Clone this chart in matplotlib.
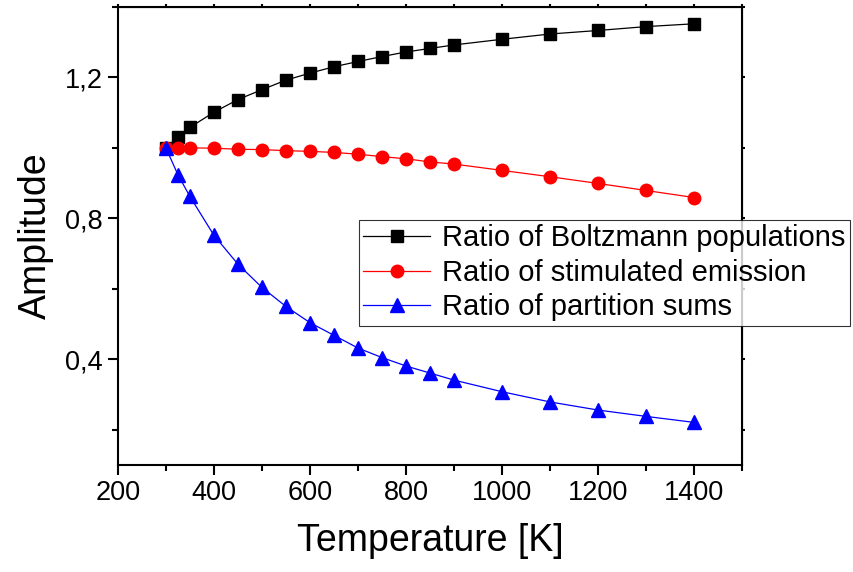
import numpy as np
import matplotlib.pyplot as plt
from matplotlib.ticker import MultipleLocator, FuncFormatter

plt.rcParams['font.family'] = ['Liberation Sans', 'DejaVu Sans']

temps = [300, 325, 350, 400, 450, 500, 550, 600, 650, 700, 750,
         800, 850, 900, 1000, 1100, 1200, 1300, 1400]
boltzmann = [1.000, 1.030, 1.058, 1.101, 1.137, 1.165, 1.192, 1.212, 1.230, 1.245,
             1.259, 1.272, 1.282, 1.292, 1.308, 1.323, 1.333, 1.344, 1.352]
stimulated = [1.000, 1.000, 1.000, 0.999, 0.996, 0.995, 0.992, 0.990, 0.987, 0.982,
              0.975, 0.969, 0.960, 0.954, 0.936, 0.918, 0.899, 0.879, 0.859]
partition = [1.000, 0.924, 0.862, 0.752, 0.670, 0.604, 0.550, 0.504, 0.468, 0.432,
             0.405, 0.381, 0.361, 0.341, 0.308, 0.279, 0.256, 0.238, 0.221]

fig = plt.figure(figsize=(8.54, 5.72), dpi=100)
ax = fig.add_axes([0.138, 0.187, 0.731, 0.801])

ax.plot(temps, boltzmann, color='black', lw=0.9, marker='s', ms=8,
        label='Ratio of Boltzmann populations')
ax.plot(temps, stimulated, color='red', lw=0.9, marker='o', ms=9,
        label='Ratio of stimulated emission')
ax.plot(temps, partition, color='blue', lw=0.9, marker='^', ms=9.5,
        label='Ratio of partition sums')

ax.set_xlim(200, 1500)
ax.set_ylim(0.1, 1.4)
ax.xaxis.set_major_locator(MultipleLocator(200))
ax.xaxis.set_minor_locator(MultipleLocator(100))
ax.yaxis.set_major_locator(MultipleLocator(0.4))
ax.yaxis.set_minor_locator(MultipleLocator(0.2))
ax.yaxis.set_major_formatter(FuncFormatter(lambda v, p: f'{v:.1f}'.replace('.', ',')))

for s in ax.spines.values():
    s.set_linewidth(1.5)
ax.tick_params(which='major', direction='out', length=7, width=1.5, labelsize=19.5, pad=4)
ax.tick_params(which='minor', direction='out', length=4, width=1.5)

# short ticks on the top and right frame
top = ax.secondary_xaxis('top')
top.xaxis.set_major_locator(MultipleLocator(100))
top.tick_params(direction='out', length=2, width=1.5, labeltop=False)
right = ax.secondary_yaxis('right')
right.yaxis.set_major_locator(MultipleLocator(0.2))
right.tick_params(direction='out', length=2, width=1.5, labelright=False)

ax.set_xlabel('Temperature [K]', fontsize=27, labelpad=12)
ax.set_ylabel('Amplitude', fontsize=27, labelpad=8)

leg = ax.legend(loc='upper left', bbox_to_anchor=(359 / 854, 1 - 220 / 572),
                bbox_transform=fig.transFigure, fontsize=21, frameon=True,
                fancybox=False, edgecolor='black', handlelength=2.3,
                handletextpad=0.4, borderpad=0.15, labelspacing=0.22,
                borderaxespad=0)
leg.get_frame().set_linewidth(0.8)

plt.savefig('out.png', dpi=100)
